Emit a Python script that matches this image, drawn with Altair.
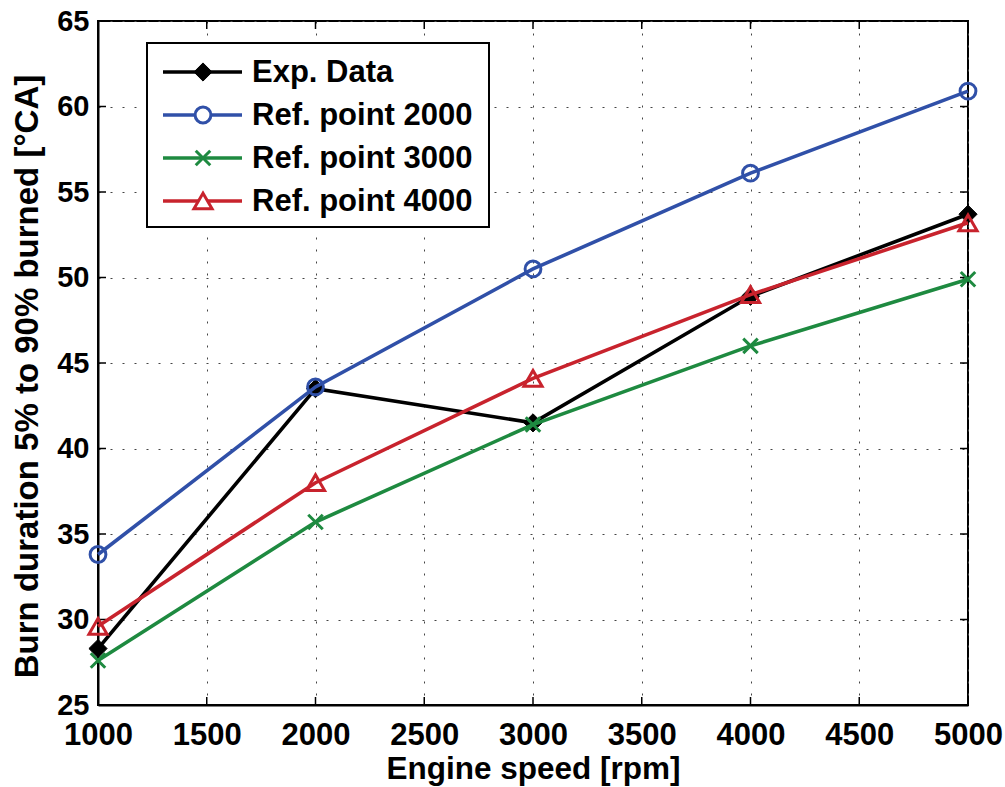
import altair as alt
import pandas as pd

# Engine speed [rpm] and burn duration 5%-90% [°CA] per series
speed = [1000, 2000, 3000, 4000, 5000]
exp_data = [28.3, 43.5, 41.5, 48.9, 53.7]
ref_2000 = [33.8, 43.6, 50.5, 56.1, 60.9]
ref_3000 = [27.6, 35.7, 41.4, 46.0, 49.9]
ref_4000 = [29.6, 38.0, 44.1, 49.0, 53.2]

series_names = ["Exp. Data", "Ref. point 2000", "Ref. point 3000", "Ref. point 4000"]
series_values = [exp_data, ref_2000, ref_3000, ref_4000]
series_colors = ["#000000", "#3050a8", "#1e8a40", "#c8232d"]

x_ticks = [1000, 1500, 2000, 2500, 3000, 3500, 4000, 4500, 5000]
y_ticks = [25, 30, 35, 40, 45, 50, 55, 60, 65]

# marker style per series: shape, size, filled
X_PATH = "M-1,-1L1,1M-1,1L1,-1"
markers = [
    ("diamond", 330, True),
    ("circle", 250, False),
    (X_PATH, 210, False),
    ("triangle-up", 330, False),
]

W, H = 870, 684
FONT = "Liberation Sans"
LINE_W = 3.6
MARK_W = 3.0

x_scale = alt.Scale(domain=[1000, 5000], nice=False, zero=False)
y_scale = alt.Scale(domain=[25, 65], nice=False, zero=False)

x_axis = alt.Axis(values=x_ticks, format="d", title="Engine speed [rpm]")
y_axis = alt.Axis(values=y_ticks, format="d", title="Burn duration 5% to 90% burned [°CA]")

rows = []
for name, vals in zip(series_names, series_values):
    for s, v in zip(speed, vals):
        rows.append({"series": name, "speed": s, "burn": v})
df = pd.DataFrame(rows)

layers = []

# inward tick marks on all four sides
xt = pd.DataFrame({"v": x_ticks})
yt = pd.DataFrame({"v": y_ticks})
tick_style = dict(color="black", strokeWidth=1.5)
layers.append(alt.Chart(xt).mark_rule(**tick_style).encode(
    x=alt.X("v:Q", scale=x_scale, axis=x_axis), y=alt.value(H), y2=alt.value(H - 8)))
layers.append(alt.Chart(xt).mark_rule(**tick_style).encode(
    x=alt.X("v:Q", scale=x_scale, axis=x_axis), y=alt.value(0), y2=alt.value(8)))
layers.append(alt.Chart(yt).mark_rule(**tick_style).encode(
    y=alt.Y("v:Q", scale=y_scale, axis=y_axis), x=alt.value(0), x2=alt.value(8)))
layers.append(alt.Chart(yt).mark_rule(**tick_style).encode(
    y=alt.Y("v:Q", scale=y_scale, axis=y_axis), x=alt.value(W), x2=alt.value(W - 8)))

# each series: line, then its markers on top
for name, color, (shape, size, filled) in zip(series_names, series_colors, markers):
    base = alt.Chart(df).transform_filter(alt.datum.series == name)
    enc = dict(x=alt.X("speed:Q", scale=x_scale, axis=x_axis),
               y=alt.Y("burn:Q", scale=y_scale, axis=y_axis))
    layers.append(base.mark_line(color=color, strokeWidth=LINE_W).encode(**enc))
    if filled:
        pt = base.mark_point(shape=shape, size=size, filled=True, fill=color,
                             stroke=color, strokeWidth=1, opacity=1)
    else:
        pt = base.mark_point(shape=shape, size=size, filled=False, stroke=color,
                             strokeWidth=MARK_W, opacity=1)
    layers.append(pt.encode(**enc))

# legend box
one = pd.DataFrame({"k": [0]})
layers.append(alt.Chart(one).mark_rect(fill="white", stroke="black", strokeWidth=2).encode(
    x=alt.value(49), x2=alt.value(391), y=alt.value(22), y2=alt.value(206)))

for i, (name, color, (shape, size, filled)) in enumerate(zip(series_names, series_colors, markers)):
    ly = 51 + 43 * i
    entry = alt.Chart(pd.DataFrame({"label": [name]}))
    layers.append(entry.mark_rule(color=color, strokeWidth=LINE_W).encode(
        x=alt.value(65), x2=alt.value(144), y=alt.value(ly)))
    if filled:
        pt = entry.mark_point(shape=shape, size=size, filled=True, fill=color,
                              stroke=color, strokeWidth=1, opacity=1)
    else:
        pt = entry.mark_point(shape=shape, size=size, filled=False, stroke=color,
                              strokeWidth=MARK_W, opacity=1, fill="white")
    layers.append(pt.encode(x=alt.value(105), y=alt.value(ly)))
    layers.append(entry.mark_text(align="left", baseline="middle", font=FONT, fontSize=31,
                                  fontWeight="bold", color="black").encode(
        x=alt.value(154), y=alt.value(ly + 1), text="label:N"))

common_axis = dict(
    grid=True, gridDash=[2, 10], gridColor="#444444", gridWidth=1,
    ticks=False, labelFlush=False, labelOverlap=False,
    labelFont=FONT, labelFontWeight="bold", labelColor="black",
    domainColor="black", domainWidth=2,
    titleFont=FONT, titleFontWeight="bold", titleColor="black",
)

chart = alt.layer(*layers).properties(
    width=W, height=H,
    autosize=alt.AutoSizeParams(type="none"),
    padding={"left": 98, "top": 21, "right": 37, "bottom": 82},
    background="white",
).configure_view(
    stroke="black", strokeWidth=2
).configure_axisX(
    **common_axis, labelFontSize=31, labelPadding=15, labelBaseline="top",
    titleFontSize=31.5, titleY=73, titleBaseline="alphabetic",
).configure_axisY(
    **common_axis, labelFontSize=29, labelPadding=9,
    titleFontSize=33, titleX=-61, titleY=355, titleAngle=-90,
    titleBaseline="alphabetic", titleAlign="center",
)

chart.save("out.html", embed_options={"renderer": "svg", "actions": False})
